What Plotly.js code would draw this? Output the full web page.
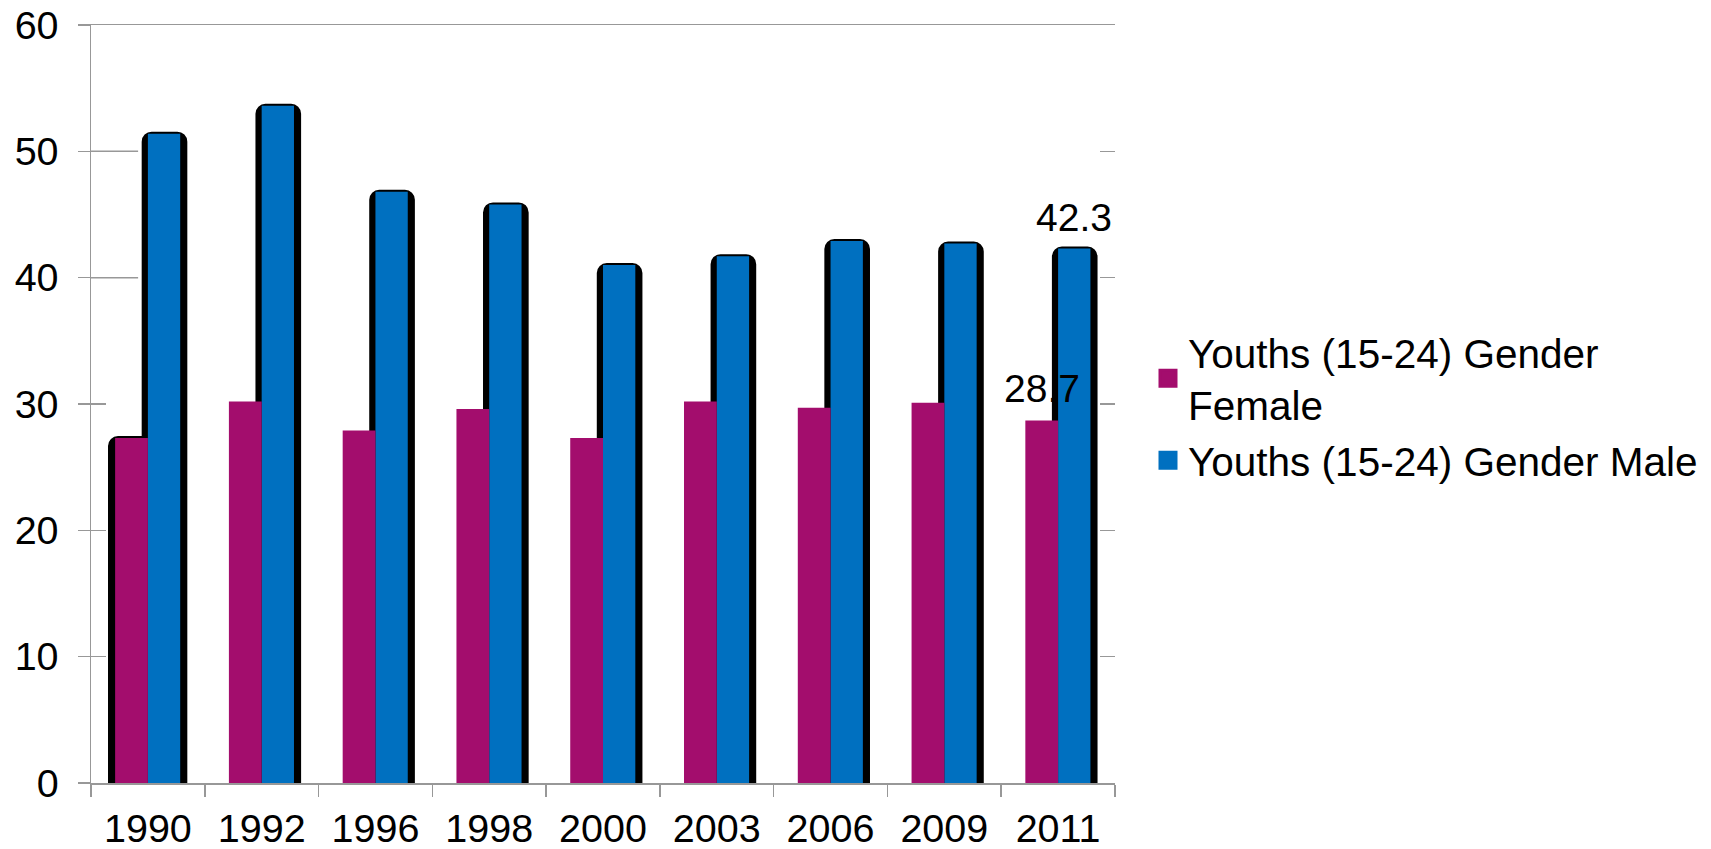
<!DOCTYPE html>
<html>
<head>
<meta charset="utf-8">
<script src="https://cdn.plot.ly/plotly-3.0.1.min.js"></script>
<style>html,body{margin:0;padding:0;background:#fff;}#chart{width:1711px;height:849px;}</style>
</head>
<body>
<div id="chart"></div>
<script>
// ---- data ----
const years = ['1990', '1992', '1996', '1998', '2000', '2003', '2006', '2009', '2011'];
const female = [27.3, 30.2, 27.9, 29.6, 27.3, 30.2, 29.7, 30.1, 28.7];
const male = [51.4, 53.6, 46.8, 45.8, 41.0, 41.7, 42.9, 42.7, 42.3];
const seriesNames = ['Youths (15-24) Gender<br>Female', 'Youths (15-24) Gender Male'];
const yTicks = [0, 10, 20, 30, 40, 50, 60];
const longStubTicks = [40, 50];

// ---- styles ----
const FEMALE_COLOR = '#A30D6D';
const MALE_COLOR = '#0070C0';
const GRAY = '#989898';
const FONT = 'Liberation Sans, Arial, sans-serif';

const last = years.length - 1;
const femaleShadow = female.map((v, i) => (i === 0 ? v : null));

const shadowStyle = {
  color: '#000000',
  line: { color: '#000000', width: 4 },
  cornerradius: 8
};

const traces = [
  { type: 'bar', x: years, y: male, offset: -0.037, width: 0.366,
    marker: shadowStyle, showlegend: false, hoverinfo: 'skip' },
  { type: 'bar', x: years, y: femaleShadow, offset: -0.333, width: 0.366,
    marker: shadowStyle, showlegend: false, hoverinfo: 'skip' },
  { type: 'bar', x: years, y: male, offset: 0, width: 0.284,
    marker: { color: MALE_COLOR, line: { width: 0 } }, showlegend: false },
  { type: 'bar', x: years, y: female, offset: -0.288, width: 0.288,
    marker: { color: FEMALE_COLOR, line: { width: 0 } }, showlegend: false },
  // legend entries
  { type: 'scatter', mode: 'markers', x: [null], y: [null], name: seriesNames[0],
    marker: { symbol: 'square', size: 16, color: FEMALE_COLOR, line: { color: FEMALE_COLOR, width: 3 } } },
  { type: 'scatter', mode: 'markers', x: [null], y: [null], name: seriesNames[1],
    marker: { symbol: 'square', size: 16, color: MALE_COLOR, line: { color: MALE_COLOR, width: 3 } } }
];

// data labels for the last category, positioned by the axes
const labelFont = { family: FONT, size: 39, color: '#000000' };
const annotations = [
  { x: last, y: female[last], text: female[last].toFixed(1), xref: 'x', yref: 'y',
    showarrow: false, xanchor: 'center', yanchor: 'bottom', xshift: -16, yshift: 8, font: labelFont },
  { x: last, y: male[last], text: male[last].toFixed(1), xref: 'x', yref: 'y',
    showarrow: false, xanchor: 'center', yanchor: 'bottom', xshift: 16, yshift: 8, font: labelFont }
];

// short gridline segments next to the left axis
const stubShapes = longStubTicks.map(v => ({
  type: 'line', xref: 'paper', yref: 'y', x0: 0, x1: 0.046, y0: v, y1: v,
  line: { color: GRAY, width: 1.5 }, layer: 'above'
}));

const stubAxis = (side, vals, len) => ({
  overlaying: 'y', side: side, anchor: 'x', range: [0, 60], tickvals: vals,
  showline: false, showticklabels: false, ticks: 'inside', ticklen: len,
  tickcolor: GRAY, tickwidth: 1.5, showgrid: false, zeroline: false
});

const layout = {
  width: 1711, height: 849,
  margin: { l: 91, r: 596, t: 25, b: 66 },
  paper_bgcolor: '#fff', plot_bgcolor: '#fff',
  barmode: 'overlay',
  showlegend: true,
  hovermode: false,
  font: { family: FONT, color: '#000' },
  annotations: annotations,
  shapes: stubShapes,
  xaxis: {
    type: 'category', range: [-0.5, 8.5],
    showline: true, linecolor: GRAY, linewidth: 1.5, mirror: true,
    ticks: 'outside', tickson: 'boundaries', ticklen: 12, tickcolor: GRAY, tickwidth: 1.5,
    showgrid: false, zeroline: false, ticklabelstandoff: 10,
    tickfont: { family: FONT, size: 39.5, color: '#000' }
  },
  yaxis: {
    range: [0, 60], tickvals: yTicks, ticktext: yTicks.map(String),
    showline: true, linecolor: GRAY, linewidth: 1.5,
    ticks: 'outside', ticklen: 12, tickcolor: GRAY, tickwidth: 1.5,
    showgrid: false, zeroline: false, ticklabelstandoff: 11,
    tickfont: { family: FONT, size: 39.5, color: '#000' }
  },
  yaxis2: stubAxis('left', yTicks, 15),
  yaxis3: stubAxis('right', yTicks, 15),
  legend: {
    xref: 'container', yref: 'container',
    x: 1148 / 1711, xanchor: 'left',
    y: 1 - 319 / 849, yanchor: 'top',
    font: { family: FONT, size: 40.5, color: '#000' },
    bgcolor: 'rgba(0,0,0,0)', borderwidth: 0,
    tracegroupgap: 4, traceorder: 'normal'
  }
};

['y2', 'y3'].forEach(ax => traces.push({ type: 'scatter', x: [null], y: [null], yaxis: ax, showlegend: false, hoverinfo: 'skip' }));

Plotly.newPlot('chart', traces, layout, { displayModeBar: false, staticPlot: true });
</script>
</body>
</html>
